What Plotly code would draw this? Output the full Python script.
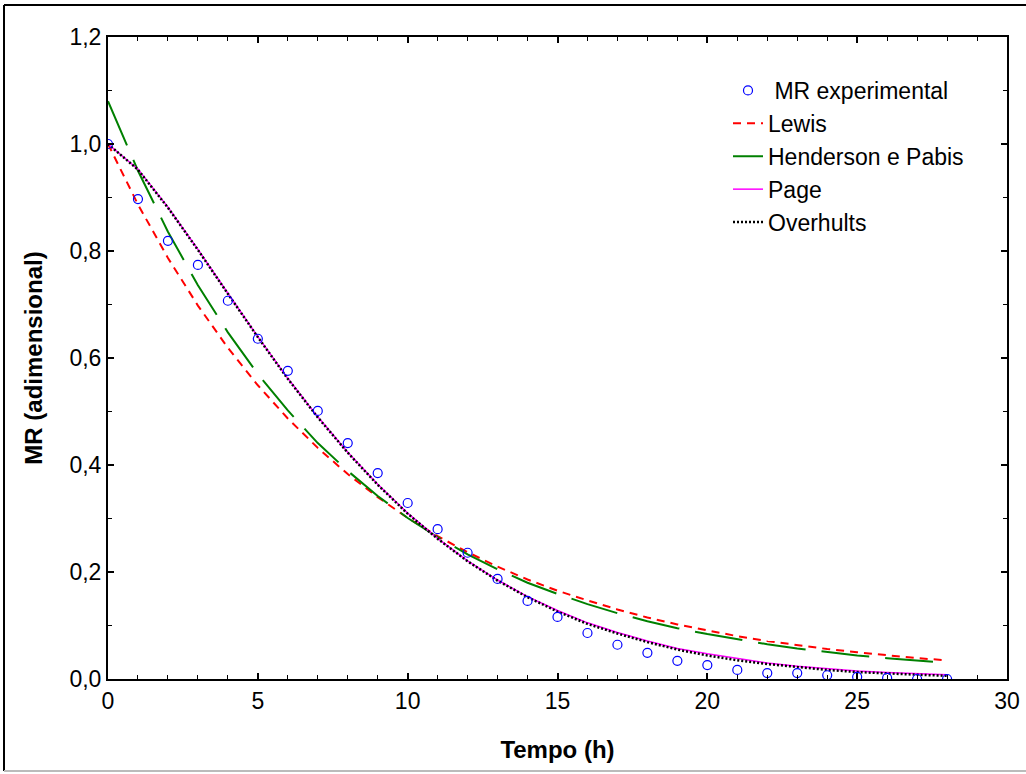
import plotly.graph_objects as go

tempo = list(range(0, 29))

mr_experimental = [1.000, 0.897, 0.819, 0.774, 0.707, 0.636, 0.576, 0.501, 0.441, 0.385,
                   0.329, 0.280, 0.236, 0.187, 0.146, 0.116, 0.086, 0.064, 0.049, 0.034,
                   0.026, 0.017, 0.011, 0.011, 0.007, 0.004, 0.002, 0.000, 0.000]

lewis = [1.000, 0.887, 0.787, 0.698, 0.619, 0.549, 0.487, 0.432, 0.383, 0.340,
         0.301, 0.267, 0.237, 0.210, 0.186, 0.165, 0.147, 0.130, 0.115, 0.102,
         0.091, 0.080, 0.071, 0.063, 0.056, 0.050, 0.044, 0.039, 0.035]

henderson_pabis = [1.080, 0.950, 0.836, 0.736, 0.648, 0.570, 0.502, 0.441, 0.389, 0.342,
                   0.301, 0.265, 0.233, 0.205, 0.180, 0.159, 0.140, 0.123, 0.108, 0.095,
                   0.084, 0.074, 0.065, 0.057, 0.050, 0.044, 0.039, 0.034, 0.030]

page = [1.000, 0.953, 0.882, 0.803, 0.721, 0.640, 0.562, 0.490, 0.424, 0.364,
        0.310, 0.263, 0.221, 0.185, 0.154, 0.128, 0.105, 0.087, 0.071, 0.057,
        0.047, 0.038, 0.030, 0.024, 0.019, 0.015, 0.012, 0.010, 0.008]

overhults = [1.000, 0.952, 0.881, 0.802, 0.720, 0.639, 0.561, 0.489, 0.423, 0.363,
             0.309, 0.262, 0.220, 0.184, 0.153, 0.126, 0.103, 0.085, 0.069, 0.055,
             0.044, 0.035, 0.028, 0.022, 0.017, 0.013, 0.010, 0.008, 0.006]

FONT = "Liberation Sans, Arial, sans-serif"

fig = go.Figure()

fig.add_trace(go.Scatter(x=tempo, y=lewis, mode="lines", name="Lewis", legendrank=2,
                         line=dict(color="#FF0000", width=2, dash="8px,6px")))
fig.add_trace(go.Scatter(x=tempo, y=henderson_pabis, mode="lines", name="Henderson e Pabis",
                         legendrank=3,
                         line=dict(color="#008000", width=2, dash="48px,16px")))
fig.add_trace(go.Scatter(x=tempo, y=page, mode="lines", name="Page", legendrank=4,
                         line=dict(color="#FF00FF", width=1.5)))
fig.add_trace(go.Scatter(x=tempo, y=overhults, mode="lines", name="Overhults", legendrank=5,
                         line=dict(color="#000000", width=2.5, dash="2px,2px")))
fig.add_trace(go.Scatter(x=tempo, y=mr_experimental, mode="markers", name=" MR experimental",
                         legendrank=1,
                         marker=dict(symbol="circle-open", size=9, color="#0000FF",
                                     line=dict(width=1.2, color="#0000FF"))))

axis_common = dict(showline=True, linecolor="black", linewidth=2, mirror="ticks",
                   ticks="inside", ticklen=6, tickwidth=1.5, tickcolor="black",
                   showgrid=False, zeroline=False, automargin=False,
                   tickfont=dict(family=FONT, size=23, color="black"))

fig.update_xaxes(range=[0, 30], tick0=0, dtick=5,
                 minor=dict(dtick=1, ticks="inside", ticklen=4, tickcolor="black", tickwidth=1),
                 title=dict(text="<b>Tempo (h)</b>", font=dict(family=FONT, size=24, color="black"),
                            standoff=29),
                 **axis_common)
fig.update_yaxes(range=[0, 1.2], tick0=0, dtick=0.2, tickformat=".1f",
                 minor=dict(dtick=0.1, ticks="inside", ticklen=4, tickcolor="black", tickwidth=1),
                 title=dict(text="<b>MR (adimensional)</b>", font=dict(family=FONT, size=24, color="black"),
                            standoff=20),
                 **axis_common)

W, H = 1026, 774
L, R, T, B = 108, 19, 37, 95
pw, ph = W - L - R, H - T - B

def px(xp):
    return (xp - L) / pw

def py(yp):
    return (H - B - yp) / ph

shapes = [
    dict(type="line", xref="paper", yref="paper", x0=px(4), x1=px(1026), y0=py(5), y1=py(5),
         line=dict(color="black", width=2)),
    dict(type="line", xref="paper", yref="paper", x0=px(4), x1=px(4), y0=py(5), y1=py(771),
         line=dict(color="black", width=2)),
    dict(type="line", xref="paper", yref="paper", x0=px(4), x1=px(1026), y0=py(771), y1=py(771),
         line=dict(color="#BBBBBB", width=2)),
]

fig.update_layout(
    width=W, height=H,
    margin=dict(l=L, r=R, t=T, b=B, autoexpand=False),
    paper_bgcolor="white", plot_bgcolor="white",
    separators=", ",
    font=dict(family=FONT, size=24, color="black"),
    showlegend=True,
    legend=dict(x=px(728), y=py(69), xanchor="left", yanchor="top",
                bgcolor="rgba(0,0,0,0)", borderwidth=0,
                font=dict(family=FONT, size=23, color="black"),
                itemwidth=30, tracegroupgap=0),
    shapes=shapes,
)

fig.write_html("out.html", config={"displayModeBar": False},
               post_script="document.body.style.margin='0';document.body.style.overflow='hidden';")
